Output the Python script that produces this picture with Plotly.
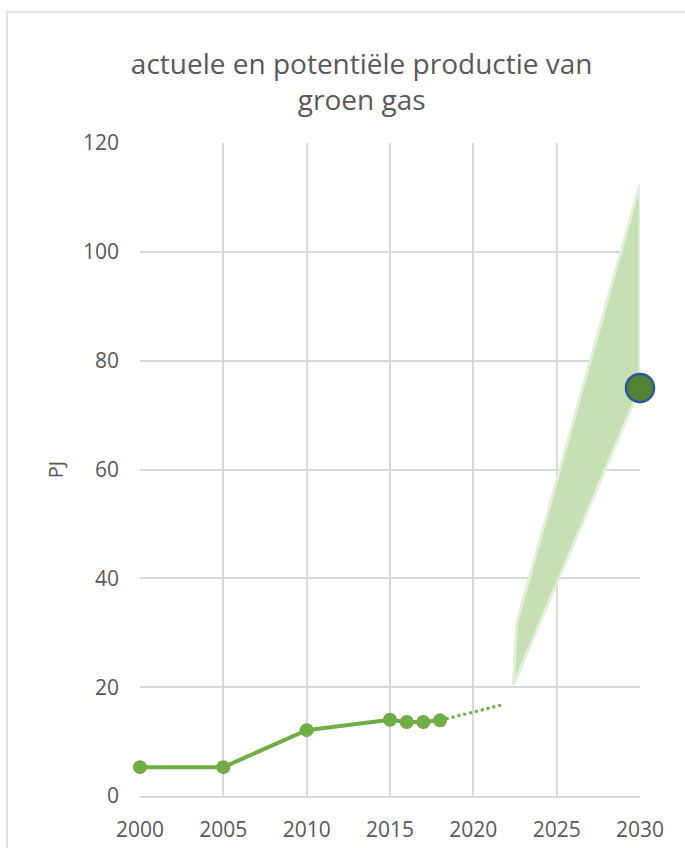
import plotly.graph_objects as go

# Measured production (PJ)
years = [2000, 2005, 2010, 2015, 2016, 2017, 2018]
production = [5.3, 5.3, 12.1, 14.0, 13.6, 13.6, 13.9]

# Trend extension (dotted)
trend_years = [2018, 2021.8]
trend_values = [13.9, 16.8]

# Potential range (band outline)
band_years = [2022.4, 2022.6, 2030, 2030, 2022.4]
band_values = [20.4, 31.8, 112.5, 75, 20.4]

# Target 2030
target_year = [2030]
target_value = [75]

fig = go.Figure()

fig.add_trace(go.Scatter(
    x=band_years, y=band_values, mode="lines", fill="toself",
    fillcolor="#c5e0b4", line=dict(color="#e2f0d9", width=3),
    hoverinfo="skip", showlegend=False))

fig.add_trace(go.Scatter(
    x=trend_years, y=trend_values, mode="lines",
    line=dict(color="#70ad47", width=3, dash="dot"),
    showlegend=False))

fig.add_trace(go.Scatter(
    x=years, y=production, mode="lines+markers",
    line=dict(color="#70ad47", width=4),
    marker=dict(color="#70ad47", size=14),
    cliponaxis=False, showlegend=False))

fig.add_trace(go.Scatter(
    x=target_year, y=target_value, mode="markers",
    marker=dict(color="#548235", size=28, line=dict(color="#2f5597", width=2.5)),
    cliponaxis=False, showlegend=False))

font_family = "'Open Sans', sans-serif"

fig.update_layout(
    width=685, height=848,
    margin=dict(l=140, r=45, t=143, b=52),
    paper_bgcolor="white", plot_bgcolor="white",
    font=dict(family=font_family, color="#595959"),
    title=dict(text="actuele en potentiële productie van<br>groen gas",
               x=0.528, xanchor="center", y=0.913, yanchor="top",
               font=dict(size=28, color="#595959", family=font_family)),
    xaxis=dict(range=[2000, 2030], tickmode="array",
               tickvals=[2000, 2005, 2010, 2015, 2020, 2025, 2030],
               ticktext=["2000", "2005", "2010", "2015", "2020", "2025", "2030"],
               showgrid=True, gridcolor="#d9d9d9", gridwidth=1.5,
               zeroline=False, showline=True, linecolor="#d9d9d9", linewidth=1.5,
               ticks="", tickfont=dict(size=21, color="#595959"), ticklabelstandoff=14,
               automargin=False),
    yaxis=dict(range=[0, 120], tickmode="array",
               tickvals=[0, 20, 40, 60, 80, 100, 120],
               showgrid=True, gridcolor="#d9d9d9", gridwidth=1.5,
               zeroline=False, showline=False, ticks="",
               tickfont=dict(size=21, color="#595959"), ticklabelstandoff=20,
               title=dict(text="PJ", font=dict(size=20, color="#595959"), standoff=13),
               automargin=False),
    shapes=[dict(type="rect", xref="paper", yref="paper",
                 x0=-0.266, x1=1.3, y0=-0.3, y1=1.2006,
                 line=dict(color="#d9d9d9", width=1.5), fillcolor="rgba(0,0,0,0)",
                 layer="below")],
)

fig.write_html("out.html")
